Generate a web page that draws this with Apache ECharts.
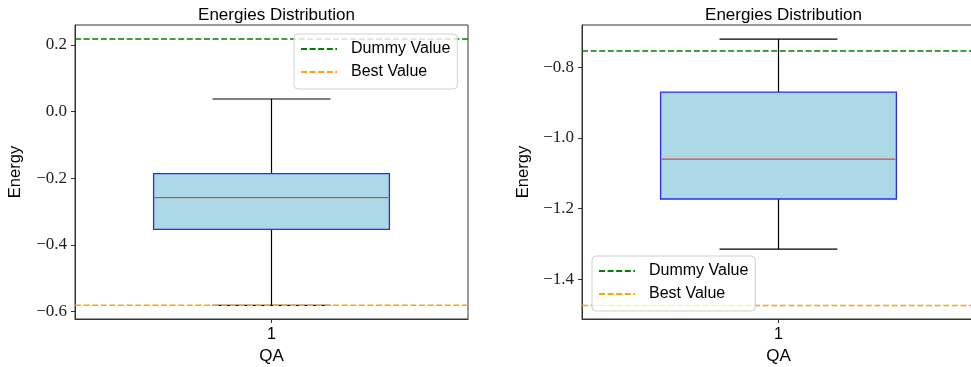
<!DOCTYPE html>
<html>
<head>
<meta charset="utf-8">
<script src="https://cdn.jsdelivr.net/npm/echarts@6/dist/echarts.min.js"></script>
<style>
  html, body { margin: 0; padding: 0; background: #fff; }
  #chart { width: 971px; height: 367px; }
</style>
</head>
<body>
<div id="chart"></div>
<script>
// Box statistics per panel: [min, Q1, median, Q3, max]
const categories = ['1'];
const leftStats = [-0.581, -0.353, -0.258, -0.186, 0.038];
const rightStats = [-1.315, -1.173, -1.060, -0.870, -0.720];

// Reference levels per panel: [left, right]
const dummyValues = [0.218, -0.754];
const bestValues = [-0.581, -1.4746];

// Tick labels per panel
const leftTicks = [-0.6, -0.4, -0.2, 0.0, 0.2];
const rightTicks = [-1.4, -1.2, -1.0, -0.8];
const yRanges = [[-0.622, 0.26], [-1.513, -0.68]];

const SANS = 'Liberation Sans';
const SERIF = 'Liberation Serif';
const BOX_W = 0.6;   // box width in x-axis units
const CAP_W = 0.3;   // whisker cap width in x-axis units
const DASH = [6, 2.6];

const fmtTick = v => (v < 0 ? '\u2212' : '') + Math.abs(v).toFixed(1);

function boxItem(params, api) {
  const x = api.value(0);
  const lo = api.value(1), q1 = api.value(2), med = api.value(3), q3 = api.value(4), hi = api.value(5);
  const pLo = api.coord([x, lo]), pHi = api.coord([x, hi]);
  const pQ1 = api.coord([x, q1]), pQ3 = api.coord([x, q3]), pMed = api.coord([x, med]);
  const bl = api.coord([x - BOX_W / 2, q3])[0], br = api.coord([x + BOX_W / 2, q3])[0];
  const cl = api.coord([x - CAP_W / 2, hi])[0], cr = api.coord([x + CAP_W / 2, hi])[0];
  const black = { stroke: '#000', lineWidth: 1.2 };
  return {
    type: 'group',
    children: [
      { type: 'line', shape: { x1: pHi[0], y1: pHi[1], x2: pQ3[0], y2: pQ3[1] }, style: black },
      { type: 'line', shape: { x1: pLo[0], y1: pLo[1], x2: pQ1[0], y2: pQ1[1] }, style: black },
      { type: 'line', shape: { x1: cl, y1: pHi[1], x2: cr, y2: pHi[1] }, style: black },
      { type: 'line', shape: { x1: cl, y1: pLo[1], x2: cr, y2: pLo[1] }, style: black },
      { type: 'rect', shape: { x: bl, y: pQ3[1], width: br - bl, height: pQ1[1] - pQ3[1] },
        style: { fill: '#ADD8E6', stroke: '#2a2aff', lineWidth: 1.3 } },
      { type: 'line', shape: { x1: bl + 1, y1: pMed[1], x2: br - 1, y2: pMed[1] },
        style: { stroke: '#e8242a', lineWidth: 1 } }
    ]
  };
}

function panel(i) {
  const ticks = i === 0 ? leftTicks : rightTicks;
  return {
    grid: { left: i === 0 ? 75 : 582, top: 25, width: 393, height: 294, show: true,
            outerBoundsMode: 'none', containLabel: false,
            borderColor: '#333', borderWidth: 1, backgroundColor: 'transparent' },
    xAxis: {
      type: 'value', gridIndex: i, min: 0.5, max: 1.5,
      name: 'QA', nameLocation: 'middle', nameGap: 25,
      nameTextStyle: { fontFamily: SANS, fontSize: 17, color: '#000' },
      axisLine: { show: true, onZero: false, lineStyle: { color: '#333', width: 1 } },
      axisTick: { show: true, length: 4, customValues: [1], lineStyle: { color: '#333' } },
      axisLabel: { customValues: [1], margin: 8, fontFamily: SANS, fontSize: 16, color: '#000',
                   formatter: v => categories[Math.round(v) - 1] },
      splitLine: { show: false }
    },
    yAxis: {
      type: 'value', gridIndex: i, min: yRanges[i][0], max: yRanges[i][1],
      name: 'Energy', nameLocation: 'middle', nameGap: i === 0 ? 51 : 50,
      nameTextStyle: { fontFamily: SANS, fontSize: 16.5, color: '#000' },
      axisLine: { show: true, onZero: false, lineStyle: { color: '#333', width: 1 } },
      axisTick: { show: true, length: 4, customValues: ticks, lineStyle: { color: '#333' } },
      axisLabel: { customValues: ticks, margin: 8, fontFamily: SERIF,
                   fontSize: 17, color: '#222', formatter: fmtTick },
      splitLine: { show: false }
    }
  };
}

const p0 = panel(0), p1 = panel(1);
const stats = [leftStats, rightStats];

const series = [];
[0, 1].forEach(i => {
  series.push({
    type: 'custom', xAxisIndex: i, yAxisIndex: i, z: 2,
    renderItem: boxItem, encode: { x: 0, y: [1, 2, 3, 4, 5] },
    data: [[1].concat(stats[i])], silent: true
  });
  series.push({
    name: 'Dummy Value', type: 'line', xAxisIndex: i, yAxisIndex: i, z: 3,
    symbol: 'none', data: [[0.5, dummyValues[i]], [1.5, dummyValues[i]]],
    lineStyle: { color: '#008000', width: 1.5, type: DASH }, itemStyle: { color: '#008000' }
  });
  series.push({
    name: 'Best Value', type: 'line', xAxisIndex: i, yAxisIndex: i, z: 3,
    symbol: 'none', data: [[0.5, bestValues[i]], [1.5, bestValues[i]]],
    lineStyle: { color: '#FFA500', width: 1.5, type: DASH }, itemStyle: { color: '#FFA500' }
  });
});

const legendBase = {
  orient: 'vertical', itemWidth: 36, itemHeight: 14, itemGap: 7,
  data: ['Dummy Value', 'Best Value'],
  itemStyle: { opacity: 0 },
  backgroundColor: 'rgba(255,255,255,0.8)', borderColor: '#d0d0d0', borderWidth: 1, borderRadius: 4,
  padding: [7, 7, 9, 6], selectedMode: false, z: 10,
  textStyle: { fontFamily: SANS, fontSize: 16, color: '#000', lineHeight: 16, padding: [0, 0, 0, 9] }
};

const titleStyle = { fontFamily: SANS, fontSize: 17, fontWeight: 'normal', color: '#000' };

const option = {
  animation: false,
  backgroundColor: '#fff',
  title: [
    { text: 'Energies Distribution', left: 271.5, top: 2, textAlign: 'center', textStyle: titleStyle },
    { text: 'Energies Distribution', left: 778.5, top: 2, textAlign: 'center', textStyle: titleStyle }
  ],
  grid: [p0.grid, p1.grid],
  xAxis: [p0.xAxis, p1.xAxis],
  yAxis: [p0.yAxis, p1.yAxis],
  legend: [
    Object.assign({}, legendBase, { left: 294, top: 34 }),
    Object.assign({}, legendBase, { left: 592, top: 256 })
  ],
  series: series
};

const chart = echarts.init(document.getElementById('chart'), null, { renderer: 'canvas' });
chart.setOption(option);
</script>
</body>
</html>
